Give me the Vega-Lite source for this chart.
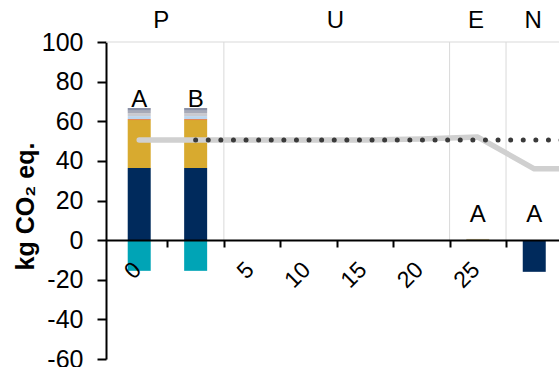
{
  "$schema": "https://vega.github.io/schema/vega-lite/v6.json",
  "width": 453,
  "height": 317,
  "autosize": "none",
  "padding": {"left": 106, "top": 42, "right": 0, "bottom": 8},
  "background": "white",
  "config": {
    "view": {"stroke": null},
    "font": "Liberation Sans",
    "axis": {"grid": false, "labelFont": "Liberation Sans", "titleFont": "Liberation Sans", "labelColor": "#000000", "titleColor": "#000000"}
  },
  "datasets": {
    "bars": [
      {"cat": 1, "comp": "c1", "ord": 1, "value": 36.4},
      {"cat": 1, "comp": "c2", "ord": 2, "value": 24.2},
      {"cat": 1, "comp": "c3", "ord": 3, "value": 0.5},
      {"cat": 1, "comp": "c4", "ord": 4, "value": 1.5},
      {"cat": 1, "comp": "c5", "ord": 5, "value": 1.5},
      {"cat": 1, "comp": "c6", "ord": 6, "value": 1.2},
      {"cat": 1, "comp": "c7", "ord": 7, "value": 1.4},
      {"cat": 1, "comp": "c8", "ord": 8, "value": -15.5},
      {"cat": 2, "comp": "c1", "ord": 1, "value": 36.4},
      {"cat": 2, "comp": "c2", "ord": 2, "value": 24.2},
      {"cat": 2, "comp": "c3", "ord": 3, "value": 0.5},
      {"cat": 2, "comp": "c4", "ord": 4, "value": 1.5},
      {"cat": 2, "comp": "c5", "ord": 5, "value": 1.5},
      {"cat": 2, "comp": "c6", "ord": 6, "value": 1.2},
      {"cat": 2, "comp": "c7", "ord": 7, "value": 1.4},
      {"cat": 2, "comp": "c8", "ord": 8, "value": -15.5},
      {"cat": 7, "comp": "c9", "ord": 9, "value": 0.6},
      {"cat": 8, "comp": "c1", "ord": 1, "value": -16}
    ],
    "labels": [
      {"cat": 1, "label": "A", "pos": 67.2},
      {"cat": 2, "label": "B", "pos": 67.2},
      {"cat": 7, "label": "A", "pos": 9.1},
      {"cat": 8, "label": "A", "pos": 9.1}
    ],
    "seps": [{"sep": 2.5}, {"sep": 6.5}, {"sep": 7.5}],
    "grey": [
      {"cat": 1, "value": 50.5},
      {"cat": 2, "value": 50.5},
      {"cat": 3, "value": 50.5},
      {"cat": 4, "value": 50.5},
      {"cat": 5, "value": 50.5},
      {"cat": 6, "value": 51},
      {"cat": 7, "value": 52},
      {"cat": 8, "value": 36},
      {"cat": 9, "value": 36}
    ],
    "dots": [
      {"cat": 2, "value": 50.5},
      {"cat": 9, "value": 50.5}
    ]
  },
  "resolve": {"axis": {"x": "independent", "y": "independent"}},
  "layer": [
    {
      "data": {"name": "seps"},
      "mark": {"type": "rule", "color": "#d9d9d9", "strokeWidth": 1},
      "encoding": {
        "x": {"field": "sep", "type": "quantitative", "scale": {"domain": [0.5, 8.35], "nice": false, "zero": false},
          "axis": {"orient": "top", "values": [1.38, 4.47, 6.96, 7.97], "labelExpr": "datum.value < 2 ? 'P' : datum.value < 5 ? 'U' : datum.value < 7.5 ? 'E' : 'N'", "domain": false, "ticks": false, "labelFontSize": 24, "labelPadding": 10, "title": null, "labelAngle": 0, "labelFlush": false}},
        "y": {"datum": 100, "type": "quantitative", "scale": {"domain": [-60, 100], "nice": false}, "axis": null},
        "y2": {"datum": 0}
      }
    },
    {
      "data": {"values": [{}]},
      "mark": {"type": "rule", "color": "#d9d9d9", "strokeWidth": 1},
      "encoding": {
        "y": {"datum": 100, "type": "quantitative", "axis": null}
      }
    },
    {
      "data": {"name": "bars"},
      "mark": {"type": "bar", "orient": "vertical", "size": 23},
      "encoding": {
        "x": {"field": "cat", "type": "quantitative",
          "axis": {"orient": "bottom", "offset": -119, "values": [1.5, 2.5, 3.5, 4.5, 5.5, 6.5, 7.5], "labels": false, "ticks": true, "tickSize": 7, "tickWidth": 2, "tickColor": "#000000", "domain": true, "domainColor": "#000000", "domainWidth": 2, "title": null, "zindex": 1}},
        "y": {"field": "value", "type": "quantitative", "stack": "zero",
          "axis": {"values": [-60, -40, -20, 0, 20, 40, 60, 80, 100], "labelExpr": "toString(datum.value)", "domainColor": "#000000", "domainWidth": 2, "tickColor": "#000000", "tickWidth": 2, "tickSize": 9, "labelFontSize": 25, "labelPadding": 14, "title": "kg CO₂ eq.", "titleFontSize": 25, "titleFontWeight": "bold", "titleX": -81, "titleY": 164, "titleBaseline": "middle", "titleAngle": -90}},
        "color": {"field": "comp", "type": "nominal", "legend": null,
          "scale": {"domain": ["c1", "c2", "c3", "c4", "c5", "c6", "c7", "c8", "c9"],
            "range": ["#002a5c", "#d8aa2f", "#e7793f", "#bcd6ef", "#c9cad0", "#a7aab8", "#8a90a6", "#00a4b6", "#cbbd8e"]}},
        "order": {"field": "ord", "type": "quantitative"}
      }
    },
    {
      "data": {"name": "grey"},
      "mark": {"type": "line", "color": "#d0d0d0", "strokeWidth": 5.5, "strokeCap": "round", "strokeJoin": "round", "clip": true},
      "encoding": {
        "x": {"field": "cat", "type": "quantitative",
          "axis": {"orient": "bottom", "offset": -119, "values": [1, 3, 4, 5, 6, 7], "labelExpr": "datum.value == 1 ? '0' : toString((datum.value - 2) * 5)", "labelAngle": -45, "labelFontSize": 23, "labelPadding": 18, "labelOffset": -10, "ticks": false, "domain": false, "title": null, "labelFlush": false, "zindex": 2}},
        "y": {"field": "value", "type": "quantitative", "axis": null}
      }
    },
    {
      "data": {"name": "dots"},
      "mark": {"type": "line", "color": "#3a3a3a", "strokeWidth": 5, "strokeCap": "round", "strokeDash": [0, 12.6], "clip": true},
      "encoding": {
        "x": {"field": "cat", "type": "quantitative", "axis": null},
        "y": {"field": "value", "type": "quantitative", "axis": null}
      }
    },
    {
      "data": {"name": "labels"},
      "mark": {"type": "text", "fontSize": 24, "baseline": "alphabetic", "color": "#000000", "font": "Liberation Sans"},
      "encoding": {
        "x": {"field": "cat", "type": "quantitative", "axis": null},
        "y": {"field": "pos", "type": "quantitative", "axis": null},
        "text": {"field": "label"}
      }
    }
  ]
}
